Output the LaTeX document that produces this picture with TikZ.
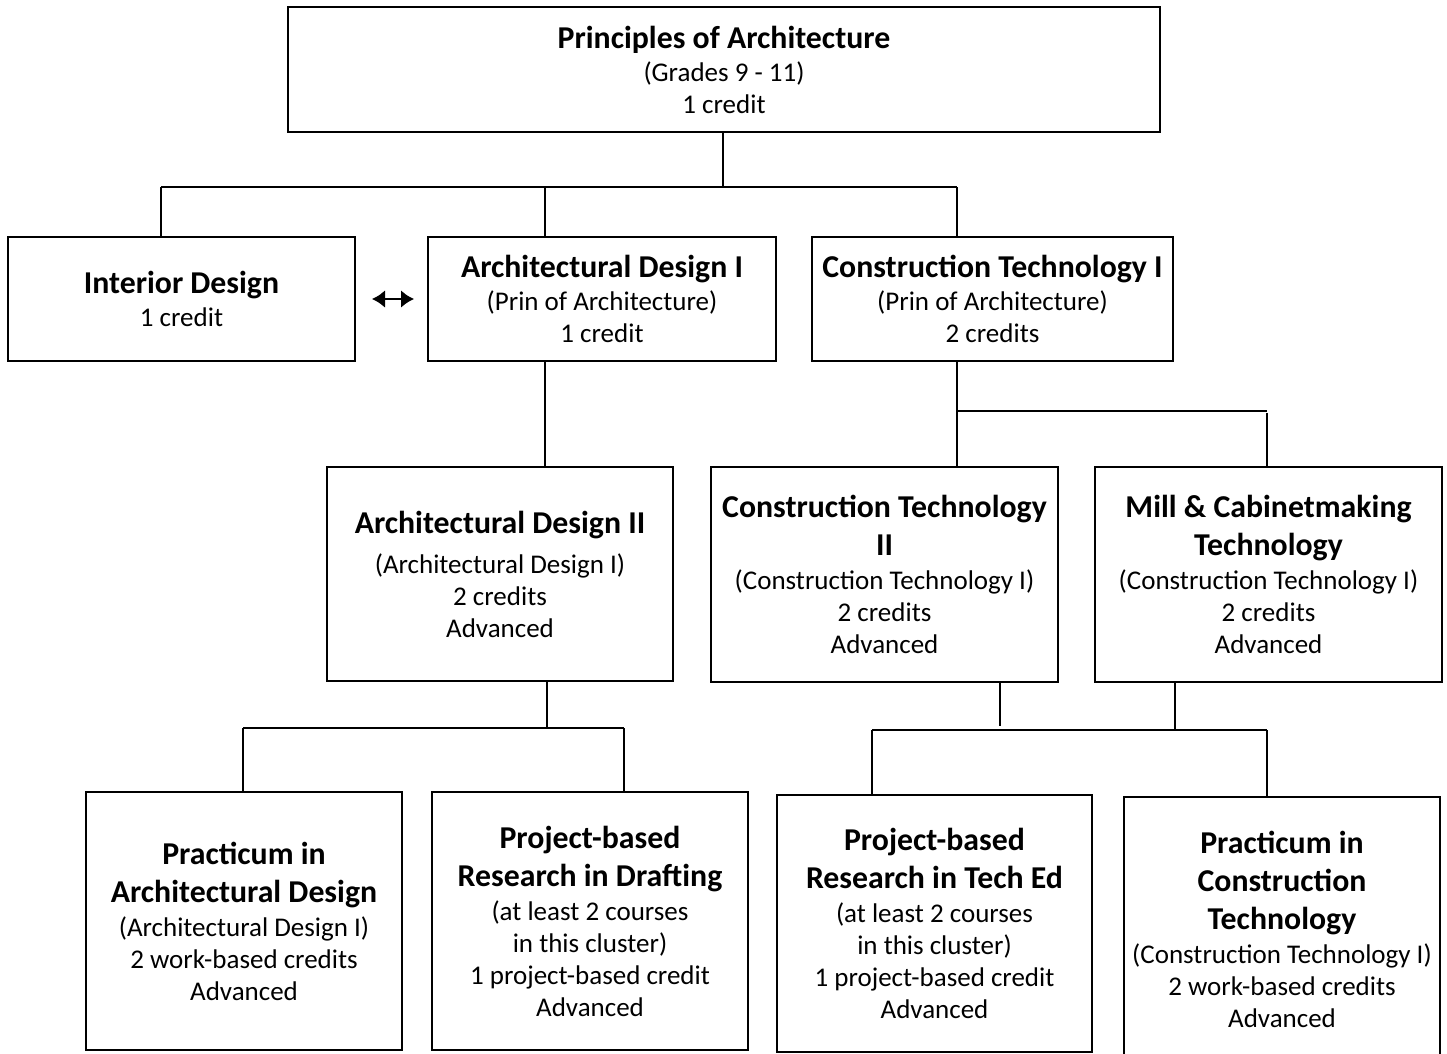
\documentclass[tikz,border=0pt]{standalone}
\usepackage{fontspec}
\setmainfont{Carlito}
\usetikzlibrary{arrows.meta}
\newcommand{\hd}{\fontsize{31.8}{38}\selectfont\bfseries}
\newcommand{\nm}{\fontsize{27}{32}\selectfont\mdseries}
\tikzset{
  box/.style={draw, line width=2.4pt, align=center, inner sep=0pt, font=\nm},
  link/.style={line width=2.4pt}
}
\begin{document}
\begin{tikzpicture}[x=1pt,y=-1pt]
\useasboundingbox (0,0) rectangle (1447,1053);
\node[box, minimum width=872pt, minimum height=125pt] (top) at (724,69.5) {{\hd Principles of Architecture}\\[1pt]{\nm (Grades 9 - 11)}\\{\nm 1 credit}};
\node[box, minimum width=347pt, minimum height=124pt] (id) at (181.5,299) {{\hd Interior Design}\\[1pt]{\nm 1 credit}};
\node[box, minimum width=348pt, minimum height=124pt] (ad1) at (602,299) {{\hd Architectural Design I}\\[1pt]{\nm (Prin of Architecture)}\\{\nm 1 credit}};
\node[box, minimum width=361pt, minimum height=124pt] (ct1) at (992.5,299) {{\hd Construction Technology I}\\[1pt]{\nm (Prin of Architecture)}\\{\nm 2 credits}};
\node[box, minimum width=346pt, minimum height=214pt] (ad2) at (500,574) {{\hd Architectural Design II}\\[8pt]{\nm (Architectural Design I)}\\{\nm 2 credits}\\{\nm Advanced}};
\node[box, minimum width=347pt, minimum height=215pt] (ct2) at (884.5,574.5) {{\hd Construction Technology}\\[6pt]{\hd II}\\[2pt]{\nm (Construction Technology I)}\\{\nm 2 credits}\\{\nm Advanced}};
\node[box, minimum width=347pt, minimum height=215pt] (mill) at (1268.5,574.5) {{\hd Mill \& Cabinetmaking}\\[6pt]{\hd Technology}\\[2pt]{\nm (Construction Technology I)}\\{\nm 2 credits}\\{\nm Advanced}};
\node[box, minimum width=316pt, minimum height=258pt] (pad) at (244,921) {{\hd Practicum in}\\[6pt]{\hd Architectural Design}\\[2pt]{\nm (Architectural Design I)}\\{\nm 2 work-based credits}\\{\nm Advanced}};
\node[box, minimum width=316pt, minimum height=258pt] (pbd) at (590,921) {{\hd Project-based}\\[6pt]{\hd Research in Drafting}\\[2pt]{\nm (at least 2 courses}\\{\nm in this cluster)}\\{\nm 1 project-based credit}\\{\nm Advanced}};
\node[box, minimum width=315pt, minimum height=257pt] (pbt) at (934.5,923.5) {{\hd Project-based}\\[6pt]{\hd Research in Tech Ed}\\[2pt]{\nm (at least 2 courses}\\{\nm in this cluster)}\\{\nm 1 project-based credit}\\{\nm Advanced}};
\node[box, minimum width=316pt, minimum height=265pt] (pct) at (1282,929.5) {{\hd Practicum in}\\[6pt]{\hd Construction}\\[6pt]{\hd Technology}\\[2pt]{\nm (Construction Technology I)}\\{\nm 2 work-based credits}\\{\nm Advanced}};
% connectors
\coordinate (j1) at (723,187);
\coordinate (j1l) at (161,187);
\coordinate (j1m) at (545,187);
\coordinate (j1r) at (957,187);
\draw[link] (j1 |- top.south) -- (j1);
\draw[link] (j1l) -- (j1r);
\draw[link] (j1l) -- (j1l |- id.north);
\draw[link] (j1m) -- (j1m |- ad1.north);
\draw[link] (j1r) -- (j1r |- ct1.north);
\draw[link] (545,0 |- ad1.south) -- (545,0 |- ad2.north);
\coordinate (j2) at (957,411);
\coordinate (j2r) at (1267,411);
\draw[link] (j2 |- ct1.south) -- (j2 |- ct2.north);
\draw[link] (j2) -- (j2r);
\draw[link] (1267,413) -- (1267,0 |- mill.north);
\coordinate (j3) at (547,728);
\coordinate (j3l) at (243,728);
\coordinate (j3r) at (624,728);
\draw[link] (j3 |- ad2.south) -- (j3);
\draw[link] (j3l) -- (j3r);
\draw[link] (j3l) -- (j3l |- pad.north);
\draw[link] (j3r) -- (j3r |- pbd.north);
\coordinate (j4l) at (872,730);
\coordinate (j4r) at (1267,730);
\draw[link] (1000,0 |- ct2.south) -- (1000,726);
\draw[link] (1175,0 |- mill.south) -- (1175,730);
\draw[link] (j4l) -- (j4r);
\draw[link] (j4l) -- (j4l |- pbt.north);
\draw[link] (j4r) -- (j4r |- pct.north);
% double arrow
\coordinate (a1) at (372,299);
\coordinate (a2) at (414,299);
\draw[line width=2.6pt, {Latex[length=13pt,width=18pt]}-{Latex[length=13pt,width=18pt]}] (a1) -- (a2);
\end{tikzpicture}
\end{document}
